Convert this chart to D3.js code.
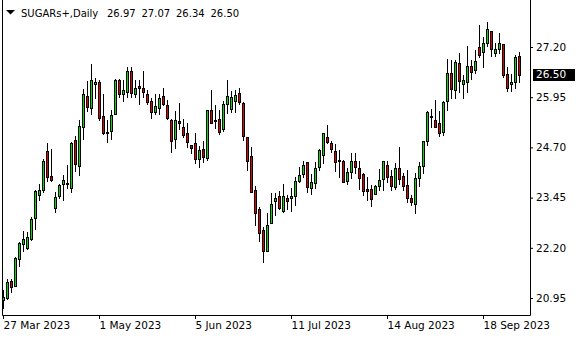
<!DOCTYPE html>
<html>
<head>
<meta charset="utf-8">
<script src="https://cdn.jsdelivr.net/npm/d3@7"></script>
<style>
  html, body { margin: 0; padding: 0; background: #fff; }
  svg { display: block; font-family: "DejaVu Sans", sans-serif; font-size: 10px; }
</style>
</head>
<body>
<svg id="chart" width="580" height="340"></svg>
<script>
// SUGARs+ daily candles (27 Mar 2023 .. end Sep 2023)
const symbolTitle = 'SUGARs+,Daily';

const opens = [
  20.90, 20.94, 21.37, 21.26, 21.93, 22.30, 22.20, 22.42, 22.93, 23.52,
  23.63, 24.61, 23.98, 23.18, 23.49, 23.78, 23.78, 23.68, 24.88, 24.23,
  25.21, 25.97, 25.67, 26.29, 26.34, 25.48, 25.09, 25.11, 25.54, 26.37,
  26.02, 26.08, 26.60, 26.04, 26.22, 26.19, 26.04, 25.85, 25.58, 25.69,
  25.97, 25.75, 25.38, 24.92, 25.35, 25.20, 25.07, 24.75, 24.80, 24.40,
  24.65, 24.44, 25.62, 25.38, 25.40, 25.16, 25.79, 25.66, 25.85, 26.06,
  25.81, 24.95, 24.48, 23.64, 23.16, 22.64, 22.13, 22.82, 23.37, 23.49,
  23.12, 23.45, 23.43, 23.49, 23.87, 24.03, 24.33, 23.68, 23.82, 24.22,
  24.52, 24.95, 24.80, 24.61, 24.38, 24.36, 23.87, 24.08, 24.35, 24.18,
  24.05, 23.67, 23.67, 23.54, 23.74, 23.91, 24.26, 23.99, 23.72, 24.18,
  23.98, 23.76, 23.43, 23.30, 23.93, 24.24, 24.86, 25.46, 25.38, 25.30,
  25.09, 25.86, 26.56, 26.12, 26.81, 26.29, 26.33, 26.72, 26.62, 27.19,
  27.08, 27.31, 27.59, 27.06, 27.14, 27.27, 26.54, 26.29, 26.33, 26.97
];
const highs = [
  21.15, 21.42, 21.42, 21.98, 22.35, 22.62, 22.60, 22.97, 23.64, 23.79,
  24.42, 24.81, 24.65, 23.59, 23.79, 24.01, 24.26, 24.84, 24.99, 25.38,
  26.15, 26.36, 26.77, 26.44, 26.37, 26.02, 25.38, 25.63, 26.40, 26.41,
  26.39, 26.69, 26.70, 26.37, 26.37, 26.60, 26.12, 25.92, 26.04, 26.04,
  26.17, 25.89, 25.41, 25.60, 25.81, 25.40, 25.30, 24.76, 25.05, 24.73,
  24.87, 25.64, 26.12, 25.75, 25.63, 25.85, 26.37, 26.10, 26.14, 26.17,
  25.82, 24.96, 24.70, 23.74, 23.22, 22.71, 23.06, 23.57, 23.57, 23.61,
  23.80, 23.51, 23.68, 23.97, 24.20, 24.37, 24.34, 24.03, 24.33, 24.67,
  25.06, 25.25, 24.86, 24.78, 24.63, 24.38, 24.18, 24.55, 24.55, 24.36,
  24.06, 23.97, 23.76, 23.76, 24.17, 24.37, 24.36, 24.13, 24.31, 24.71,
  24.07, 24.13, 23.51, 24.06, 24.33, 24.86, 25.61, 25.65, 25.87, 25.60,
  25.85, 26.91, 26.87, 26.87, 27.06, 26.50, 27.22, 26.87, 27.12, 27.74,
  27.45, 27.82, 27.60, 27.29, 27.56, 27.28, 26.70, 26.54, 27.01, 27.07
];
const lows = [
  20.69, 20.92, 21.09, 21.24, 21.75, 22.13, 22.17, 22.39, 22.68, 23.39,
  23.59, 23.87, 23.87, 23.10, 23.43, 23.40, 23.68, 23.59, 24.11, 24.01,
  24.91, 25.61, 25.54, 25.92, 25.38, 25.03, 24.84, 24.90, 25.52, 25.96,
  25.86, 25.96, 25.96, 25.96, 25.79, 25.96, 25.77, 25.42, 25.54, 25.54,
  25.75, 25.41, 24.59, 24.69, 25.16, 24.96, 24.71, 24.55, 24.30, 24.20,
  24.34, 24.38, 25.30, 25.19, 25.03, 25.10, 25.56, 25.58, 25.58, 25.78,
  24.88, 24.13, 23.58, 22.78, 22.37, 21.85, 22.12, 22.81, 23.01, 23.16,
  23.08, 23.16, 23.12, 23.26, 23.83, 23.97, 23.59, 23.55, 23.68, 24.13,
  24.30, 24.80, 24.59, 24.12, 23.97, 23.83, 23.80, 23.94, 24.06, 23.66,
  23.51, 23.39, 23.24, 23.53, 23.65, 23.65, 23.84, 23.64, 23.66, 23.79,
  23.65, 23.35, 23.26, 23.06, 23.74, 24.07, 24.76, 25.20, 25.20, 24.99,
  25.02, 25.63, 25.94, 25.92, 26.08, 25.92, 26.08, 26.41, 26.55, 26.95,
  26.69, 27.23, 26.98, 26.98, 27.04, 26.46, 26.10, 26.10, 26.17, 26.34
];
const closes = [
  20.97, 21.35, 21.23, 21.95, 22.33, 22.42, 22.47, 22.92, 23.61, 23.64,
  24.36, 23.97, 23.88, 23.46, 23.76, 23.88, 23.81, 24.81, 24.28, 25.23,
  26.02, 25.71, 26.37, 26.34, 25.43, 25.05, 25.05, 25.50, 26.39, 26.02,
  26.12, 26.60, 26.05, 26.19, 26.19, 26.07, 25.83, 25.57, 25.74, 25.92,
  25.79, 25.43, 24.86, 25.38, 25.30, 25.02, 24.84, 24.69, 24.40, 24.63,
  24.46, 25.63, 25.32, 25.35, 25.09, 25.78, 25.97, 25.95, 26.00, 25.82,
  24.99, 24.37, 23.59, 23.07, 22.58, 22.13, 22.78, 23.28, 23.45, 23.20,
  23.49, 23.37, 23.49, 23.86, 24.01, 24.25, 23.72, 23.83, 24.18, 24.63,
  25.05, 24.84, 24.67, 24.34, 24.37, 23.84, 24.09, 24.35, 24.20, 23.95,
  23.62, 23.62, 23.41, 23.74, 23.88, 24.36, 23.97, 23.74, 24.18, 23.91,
  23.74, 23.43, 23.34, 23.93, 24.23, 24.85, 25.59, 25.49, 25.21, 25.05,
  25.82, 26.56, 26.15, 26.83, 26.36, 26.37, 26.72, 26.58, 26.85, 26.99,
  27.31, 27.66, 27.16, 27.16, 27.29, 26.51, 26.17, 26.32, 26.94, 26.50
];

// right price scale labels
const priceTicks = [27.20, 25.95, 24.70, 23.45, 22.20, 20.95];
// time scale labels and the bar index they sit on
const dateLabels = ['27 Mar 2023', '1 May 2023', '5 Jun 2023', '11 Jul 2023', '14 Aug 2023', '18 Sep 2023'];
const dateTickIdx = [0, 24, 48, 72, 96, 120];

const upColor = '#00e000';
const downColor = '#e00000';

const svg = d3.select('#chart');
const plotLeft = 2, plotRight = 530, plotBottom = 315;

const x = d3.scaleLinear().domain([0, 1]).range([3, 7]);
const y = d3.scaleLinear().domain([20.95, 27.20]).range([298, 47]);

const bars = opens.map((o, i) => ({ i, o, h: highs[i], l: lows[i], c: closes[i] }));

// clip candles to plot area
svg.append('clipPath').attr('id', 'plotClip')
    .append('rect').attr('x', plotLeft).attr('y', 0)
    .attr('width', plotRight - plotLeft).attr('height', plotBottom);

const g = svg.append('g').attr('clip-path', 'url(#plotClip)');

// wicks
g.selectAll('.wick')
    .data(bars)
    .enter()
    .append('line')
    .attr('class', 'wick')
    .attr('x1', d => Math.round(x(d.i)) + 0.5)
    .attr('x2', d => Math.round(x(d.i)) + 0.5)
    .attr('y1', d => Math.round(y(d.h)))
    .attr('y2', d => Math.round(y(d.l)) + 1)
    .attr('stroke', '#000')
    .attr('stroke-width', 1);

// bodies
bars.forEach(d => {
    const cx = Math.round(x(d.i));
    const top = Math.round(y(Math.max(d.o, d.c)));
    const bot = Math.round(y(Math.min(d.o, d.c)));
    if (bot - top < 1) {
        g.append('line')
            .attr('x1', cx - 1).attr('x2', cx + 2)
            .attr('y1', top + 0.5).attr('y2', top + 0.5)
            .attr('stroke', '#000');
    } else {
        g.append('rect')
            .attr('x', cx - 0.5)
            .attr('y', top + 0.5)
            .attr('width', 2)
            .attr('height', bot - top)
            .attr('fill', d.c >= d.o ? upColor : downColor)
            .attr('stroke', '#000')
            .attr('stroke-width', 1);
    }
});

// frame
svg.append('path')
    .attr('d', `M${plotLeft + 0.5},0V${plotBottom + 0.5}H${plotRight + 0.5}V0`)
    .attr('fill', 'none')
    .attr('stroke', '#000');

// price axis
const yAxis = svg.append('g')
    .attr('transform', `translate(${plotRight},0)`)
    .call(d3.axisRight(y).tickValues(priceTicks).tickSize(3).tickFormat(d3.format('.2f')));
yAxis.select('.domain').remove();
yAxis.selectAll('line').attr('stroke', '#000');
yAxis.selectAll('text')
    .attr('fill', '#000')
    .style('font-family', '"DejaVu Sans", sans-serif')
    .style('font-size', '10.5px');

// time axis
const xAxis = svg.append('g')
    .attr('transform', `translate(0,${plotBottom})`)
    .call(d3.axisBottom(x).tickValues(dateTickIdx).tickSize(4).tickFormat((d, i) => dateLabels[i]));
xAxis.select('.domain').remove();
xAxis.selectAll('line').attr('stroke', '#000');
xAxis.selectAll('text')
    .attr('text-anchor', 'start')
    .attr('x', 0)
    .attr('fill', '#000')
    .style('font-family', '"DejaVu Sans", sans-serif')
    .style('font-size', '10.5px');

// current price tag
const last = closes[closes.length - 1];
const ly = Math.round(y(last));
svg.append('rect')
    .attr('x', plotRight + 3).attr('y', ly - 6)
    .attr('width', 42).attr('height', 12)
    .attr('fill', '#000');
svg.append('text')
    .attr('x', plotRight + 6).attr('y', ly)
    .attr('dy', '0.32em')
    .attr('fill', '#fff')
    .style('font-size', '10.5px')
    .text(d3.format('.2f')(last));

// header: symbol and OHLC of last bar
svg.append('path')
    .attr('d', 'M6,10H15L10.5,14.5Z')
    .attr('fill', '#000');
const header = svg.append('text').attr('y', 16.5).attr('fill', '#000');
header.append('tspan').attr('x', 21).text(symbolTitle);
const lastOHLC = [opens, highs, lows, closes].map(a => a[a.length - 1]);
lastOHLC.forEach((v, k) => {
    header.append('tspan').attr('x', 107 + k * 34.5).text(d3.format('.2f')(v));
});
</script>
</body>
</html>
